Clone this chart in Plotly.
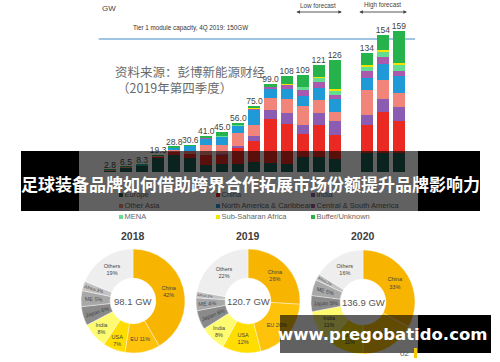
import plotly.graph_objects as go

# ---------------- data ----------------
categories = ["2007", "2008", "2009", "2010", "2011", "2012", "2013", "2014", "2015",
              "2016", "2017", "2018", "2019 Low", "2020 Low", "2021 Low",
              "2019 High", "2020 High", "2021 High"]
gap_category = " "
totals = [2.8, 6.5, 8.3, 19.3, 28.8, 30.6, 41.0, 45.0, 56.0, 75.0, 99.0, 108, 109, 121, 126, 134, 154, 159]

series_names = ["Europe", "China", "India", "Other Asia", "North America & Caribbean",
                "Central & South America", "MENA", "Sub-Saharan Africa", "Buffer/Unknown"]
europe = [2.3, 5.4, 7.2, 16.8, 19.7, 16.8, 8.4, 9.0, 9.0, 12.3, 11.2, 10.1, 17.9, 17.9, 15.7, 22.4, 22.4, 22.4]
china = [0.2, 0.3, 0.4, 1.0, 3.3, 4.5, 11.3, 11.0, 18.0, 22.7, 49.3, 44.8, 25.4, 35.9, 26.9, 31.4, 45.6, 35.0]
india = [0, 0, 0, 0.2, 0.3, 0.3, 0.3, 0.5, 2.6, 6.4, 10.0, 12.0, 10.5, 13.1, 14.8, 11.2, 14.9, 15.7]
other_asia = [0.1, 0.4, 0.3, 0.8, 2.0, 2.0, 11.0, 10.9, 15.0, 12.4, 12.7, 16.0, 20.4, 14.8, 10.6, 28.0, 21.2, 16.1]
north_america = [0.1, 0.3, 0.3, 0.4, 2.5, 6.5, 7.5, 9.0, 8.0, 16.7, 11.2, 10.8, 11.2, 13.1, 14.5, 13.0, 17.6, 19.4]
central_south_america = [0, 0, 0, 0, 0, 0, 0.2, 0.3, 0.5, 1.0, 1.6, 4.8, 7.5, 7.4, 4.8, 8.6, 7.9, 6.0]
mena = [0, 0, 0, 0, 0, 0, 0.2, 0.3, 0.5, 0.5, 0.3, 0.5, 3.2, 4.1, 4.2, 3.4, 5.6, 6.3]
sub_saharan_africa = [0, 0, 0, 0, 0, 0, 0.2, 0.3, 0.3, 0.5, 0.3, 0.3, 0.5, 1.5, 2.2, 3.0, 2.5, 2.6]
buffer_unknown = [0.1, 0.1, 0.1, 0.1, 1.0, 0.5, 1.9, 3.7, 2.1, 2.5, 2.4, 8.7, 12.4, 13.2, 32.3, 13.0, 16.3, 35.5]
series_values = [europe, china, india, other_asia, north_america,
                 central_south_america, mena, sub_saharan_africa, buffer_unknown]
tier1_capacity = 150

pie_years = ["2018", "2019", "2020"]
pie_totals = ["98.1 GW", "120.7 GW", "136.9 GW"]
pie_labels = ["China", "EU", "USA", "India", "Japan", "ME", "Africa", "Others"]
pie_2018 = [42, 11, 7, 8, 6, 5, 3, 19]
pie_2019 = [26, 20, 12, 8, 6, 4, 2, 22]
pie_2020 = [33, 17, 11, 11, 5, 5, 2, 16]
pie_values = [pie_2018, pie_2019, pie_2020]

# ---------------- styles ----------------
bar_colors = ["#1E5E52", "#EA2A22", "#8C5BB2", "#F2857A", "#1F9AD6",
              "#A95AAE", "#63DE90", "#F2E300", "#27B34B"]
pie_colors = ["#F7B400", "#FFC20A", "#FFDD00", "#FFFB70", "#8A8A8A", "#A8A8A8", "#C2C2C2", "#EEEEEE"]
pie_templates = ["%{label}<br>%{value}%", "%{label} %{value}%", "%{label}<br>%{value}%",
                 "%{label}<br>%{value}%", "%{label} %{value}%", "%{label} %{value}%",
                 "%{label} %{value}%", "%{label}<br>%{value}%"]
W, H = 500, 362
LAT = "Liberation Sans, Arial, sans-serif"
CJK = "Noto Sans CJK SC, sans-serif"


def px(x):
    return x / W


def py(y):
    return 1 - y / H


def note(x, y, text, size, color, family=LAT, xanchor="center"):
    return dict(x=px(x), y=py(y), xref="paper", yref="paper", text=text, showarrow=False,
                xanchor=xanchor, yanchor="middle", font=dict(size=size, color=color, family=family))


def span_arrow(x_start, x_end, y):
    return dict(x=x_end, ax=x_start, xref="x", axref="x", y=py(y), yref="paper", ay=0, ayref="pixel",
                text="", showarrow=True, arrowside="end+start", arrowhead=2, arrowsize=0.8,
                arrowwidth=0.9, arrowcolor="#444", standoff=0, startstandoff=0)


fig = go.Figure()

for name, vals, col in zip(series_names, series_values, bar_colors):
    fig.add_trace(go.Bar(x=categories, y=vals, name=name, marker=dict(color=col, line=dict(width=0)),
                         xaxis="x", yaxis="y"))

fig.add_trace(go.Scatter(
    x=categories, y=totals, mode="text",
    text=[("%.1f" % t) if t < 100 else ("%d" % t) for t in totals],
    textposition="top center", textfont=dict(size=8.5, color="#444", family=LAT),
    cliponaxis=False, xaxis="x", yaxis="y"))

# legend drawn as a trace (so the banner overlays it)
leg_x = [121, 218, 313]
leg_y = [195, 206, 217]
fig.add_trace(go.Scatter(
    x=[leg_x[i % 3] for i in range(len(series_names))],
    y=[leg_y[i // 3] for i in range(len(series_names))],
    mode="markers+text", text=series_names, textposition="middle right",
    marker=dict(symbol="square", size=4, color=bar_colors),
    textfont=dict(size=7.5, color="#666", family=LAT),
    cliponaxis=False, xaxis="x2", yaxis="y2"))

# donuts
pie_centers = [(133, 301), (248, 301), (363, 302)]
R = 52
for yr, tot, vals, (cx, cy) in zip(pie_years, pie_totals, pie_values, pie_centers):
    fig.add_trace(go.Pie(
        labels=pie_labels, values=vals, sort=False, direction="clockwise", rotation=0,
        hole=0.44, marker=dict(colors=pie_colors, line=dict(color="white", width=0.4)),
        texttemplate=pie_templates, textposition="inside", insidetextorientation="auto",
        textfont=dict(size=5.5, color="#444", family=LAT),
        domain=dict(x=[px(cx - R), px(cx + R)], y=[py(cy + R), py(cy - R)])))

shapes = [
    dict(type="line", xref="x", yref="y", x0=-0.7, x1=19.0, y0=tier1_capacity, y1=tier1_capacity,
         line=dict(color="#7FB2D8", width=1.5), layer="below"),
    # banner
    dict(type="rect", xref="paper", yref="paper", x0=px(21), x1=px(79), y0=py(211), y1=py(151),
         fillcolor="black", line=dict(width=0), layer="above"),
    dict(type="rect", xref="paper", yref="paper", x0=px(79), x1=px(418), y0=py(211), y1=py(151),
         fillcolor="rgba(0,0,0,0.62)", line=dict(width=0), layer="above"),
    dict(type="rect", xref="paper", yref="paper", x0=px(418), x1=px(480), y0=py(211), y1=py(151),
         fillcolor="black", line=dict(width=0), layer="above"),
    # watermark box
    dict(type="rect", xref="paper", yref="paper", x0=px(280), x1=px(418), y0=py(353), y1=py(315),
         fillcolor="rgba(0,0,0,0.62)", line=dict(width=0), layer="above"),
    dict(type="rect", xref="paper", yref="paper", x0=px(418), x1=px(491), y0=py(353), y1=py(315),
         fillcolor="black", line=dict(width=0), layer="above"),
    dict(type="rect", xref="paper", yref="paper", x0=px(414), x1=px(417), y0=py(358), y1=py(348),
         fillcolor="#F5C800", line=dict(width=0), layer="above"),
]

annotations = [
    note(100, 9, "GW", 8, "#444", xanchor="left"),
    note(131, 28, "Tier 1 module capacity, 4Q 2019: 150GW", 6.3, "#333", xanchor="left"),
    note(318, 5, "Low forecast", 6.3, "#444"),
    note(382, 5, "High forecast", 6.3, "#444"),
    span_arrow(11.52, 14.45, 12),
    span_arrow(15.44, 18.5, 12),
    note(113, 71, "资料来源：彭博新能源财经", 12.5, "#6a6a6a", CJK, "left"),
    note(115, 87, "（2019年第四季度）", 12.5, "#6a6a6a", CJK, "left"),
    note(250, 183, "<b>足球装备品牌如何借助跨界合作拓展市场份额提升品牌影响力</b>", 17, "white", CJK),
    note(382, 334, "<b>www.pregobatido.com</b>", 16.5, "white", "DejaVu Sans, sans-serif"),
    note(404, 353, "02", 8, "#555"),
]
for yr, tot, (cx, cy) in zip(pie_years, pie_totals, pie_centers):
    annotations.append(note(cx, 236, "<b>%s</b>" % yr, 10.5, "#404040"))
    annotations.append(note(cx, cy, tot, 9.5, "#555"))

fig.update_layout(
    width=W, height=H, margin=dict(l=0, r=0, t=0, b=0),
    paper_bgcolor="white", plot_bgcolor="rgba(0,0,0,0)", showlegend=False,
    barmode="stack", bargap=0.25,
    xaxis=dict(type="category", categoryorder="array",
               categoryarray=categories[:15] + [gap_category] + categories[15:],
               range=[-1, 19], domain=[0.1878, 0.830], visible=False, fixedrange=True),
    yaxis=dict(range=[0, 170], domain=[0.5235, 0.9414], visible=False),
    xaxis2=dict(range=[0, W], domain=[0, 1], visible=False, anchor="y2"),
    yaxis2=dict(range=[H, 0], domain=[0, 1], visible=False, anchor="x2"),
    shapes=shapes, annotations=annotations,
)

fig.write_html("out.html", config={"displayModeBar": False},
               post_script="document.body.style.margin='0';document.body.style.overflow='hidden';")
